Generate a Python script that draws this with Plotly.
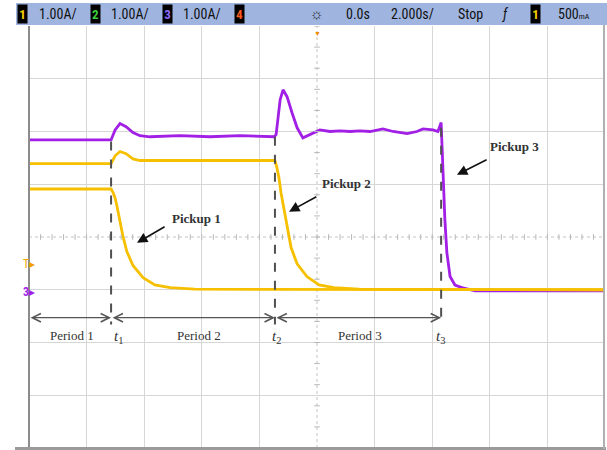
import plotly.graph_objects as go
import numpy as np

# ---- scope settings -------------------------------------------------------
ch_scale = ["1.00A/", "1.00A/", "1.00A/"]
time_ref = "0.0s"
time_scale = "2.000s/"
run_state = "Stop"
trig_level = "500"

# ---- acquired waveforms (time in s, current in A) --------------------------
# Channel 3 (purple)
ch3_t = [-10.00, -7.15, -7.01, -6.84, -6.63, -6.39, -6.15, -5.80, -4.76, -3.72,
         -2.67, -1.49, -1.42, -1.28, -1.18, -1.04, -0.87, -0.69, -0.49, -0.24,
         0.10, 0.45, 0.80, 1.15, 1.49, 1.84, 2.29, 2.64, 3.13, 3.47,
         3.68, 4.03, 4.20, 4.31, 4.37, 4.44, 4.51, 4.62, 4.79, 5.03,
         5.49, 10.00]
ch3_i = [2.84, 2.84, 3.03, 3.15, 3.09, 2.98, 2.92, 2.90, 2.92, 2.90,
         2.92, 2.90, 2.94, 3.60, 3.79, 3.66, 3.36, 3.07, 2.88, 2.94,
         3.03, 3.00, 3.01, 3.00, 3.01, 3.00, 3.05, 3.00, 2.96, 3.00,
         3.05, 3.03, 3.00, 3.17, 2.27, 1.33, 0.70, 0.25, 0.09, 0.04,
         -0.02, -0.02]

# Channel 1, upper record (yellow)
ch1a_t = [-10.00, -7.15, -7.01, -6.84, -6.63, -6.39, -6.15, -4.06, -1.49, -1.46,
          -1.39, -1.32, -1.25, -1.15, -1.04, -0.90, -0.69, -0.35, 0.07, 0.59,
          1.46, 10.00]
ch1a_i = [2.39, 2.39, 2.54, 2.62, 2.58, 2.48, 2.45, 2.45, 2.45, 2.45,
          2.31, 2.12, 1.84, 1.52, 1.18, 0.80, 0.49, 0.25, 0.09, 0.04,
          0.01, 0.00]

# Channel 1, lower record (yellow)
ch1b_t = [-10.00, -7.15, -7.08, -7.01, -6.94, -6.84, -6.74, -6.60, -6.39, -6.04,
          -5.63, -5.10, -4.24, 10.00]
ch1b_i = [1.91, 1.91, 1.84, 1.74, 1.57, 1.29, 1.02, 0.72, 0.46, 0.23,
          0.09, 0.04, 0.01, 0.00]

# switching instants and labels
event_times = [-7.15, -1.46, 4.31]
event_names = ["t<sub>1</sub>", "t<sub>2</sub>", "t<sub>3</sub>"]
period_names = ["Period 1", "Period 2", "Period 3"]
pickup_names = ["Pickup 1", "Pickup 2", "Pickup 3"]

W, H = 607, 450
PURPLE = "#a21fe6"
YELLOW = "#f6c000"
SERIF = "Liberation Serif, Times New Roman, serif"
NARROW = "Liberation Sans Narrow, Roboto Condensed, Liberation Sans, Arial"


def pxx(x):
    return x / W


def pxy(y):
    return 1 - y / H


fig = go.Figure()

fig.add_trace(go.Scatter(x=ch3_t, y=ch3_i, mode="lines",
                         line=dict(color=PURPLE, width=2.8), hoverinfo="skip"))
fig.add_trace(go.Scatter(x=ch1a_t, y=ch1a_i, mode="lines",
                         line=dict(color=YELLOW, width=2.8), hoverinfo="skip"))
fig.add_trace(go.Scatter(x=ch1b_t, y=ch1b_i, mode="lines",
                         line=dict(color=YELLOW, width=2.8), hoverinfo="skip"))

# minor ticks on the centre graticule lines
fig.add_trace(go.Scatter(x=np.arange(-10, 10.01, 0.4), y=np.full(51, 1.0),
                         mode="markers", hoverinfo="skip",
                         marker=dict(symbol="line-ns", size=4,
                                     line=dict(color="#b8b8b8", width=1))))
fig.add_trace(go.Scatter(x=np.zeros(21), y=np.arange(-3, 5.01, 0.4),
                         mode="markers", hoverinfo="skip",
                         marker=dict(symbol="line-ew", size=4,
                                     line=dict(color="#b8b8b8", width=1))))

shapes = []
# centre graticule lines (dotted)
shapes.append(dict(type="line", xref="x", yref="y", x0=-10, x1=10, y0=1, y1=1,
                   line=dict(color="#c4c4c4", width=1, dash="dot"), layer="below"))
shapes.append(dict(type="line", xref="x", yref="y", x0=0, x1=0, y0=-3, y1=5,
                   line=dict(color="#c4c4c4", width=1, dash="dot"), layer="below"))
# frame
shapes.append(dict(type="line", xref="paper", yref="paper",
                   x0=pxx(29), x1=pxx(29), y0=pxy(26), y1=pxy(449),
                   line=dict(color="#8c8c8c", width=2)))
shapes.append(dict(type="line", xref="paper", yref="paper",
                   x0=pxx(15), x1=pxx(606), y0=pxy(448.5), y1=pxy(448.5),
                   line=dict(color="#9a9a9a", width=3)))
shapes.append(dict(type="line", xref="paper", yref="paper",
                   x0=pxx(604), x1=pxx(604), y0=pxy(24), y1=pxy(449),
                   line=dict(color="#b0b0b0", width=2)))
# status bar
shapes.append(dict(type="rect", xref="paper", yref="paper",
                   x0=pxx(16), x1=pxx(607), y0=pxy(25), y1=pxy(3),
                   fillcolor="#9fb5e0", line=dict(width=0)))

# dashed markers at the switching instants
dash_tops = [2.81, 2.90, 3.07]
for t, top in zip(event_times, dash_tops):
    shapes.append(dict(type="line", xref="x", yref="y", x0=t, x1=t,
                       y0=top, y1=-0.66,
                       line=dict(color="#505050", width=2, dash="dash")))

annotations = []


# status bar contents
def bar_text(x, text, size=14, color="#111111", bg=None, w=None):
    a = dict(xref="paper", yref="paper", x=pxx(x), y=pxy(14), text=text,
             showarrow=False, xanchor="center", yanchor="middle",
             font=dict(family=NARROW, size=size, color=color))
    if bg:
        a.update(bgcolor=bg, width=w, height=18, borderpad=0)
    annotations.append(a)


bar_text(22, "<b>1</b>", 13, "#f5d000", "#000000", 9)
bar_text(58, ch_scale[0])
bar_text(95, "<b>2</b>", 13, "#3ccf3c", "#000000", 9)
bar_text(130, ch_scale[1])
bar_text(167, "<b>3</b>", 13, "#8f6bff", "#000000", 9)
bar_text(202, ch_scale[2])
bar_text(239, "<b>4</b>", 13, "#ff5a1f", "#000000", 9)
bar_text(317, "☼", 15, "#222222")
bar_text(358, time_ref)
bar_text(412, time_scale)
bar_text(471, run_state)
bar_text(505, "<i>ƒ</i>", 14)
bar_text(535, "<b>1</b>", 13, "#f5d000", "#000000", 9)
bar_text(574, trig_level + "<span style='font-size:8px'>mA</span>")

# trigger position marker
annotations.append(dict(xref="x", yref="paper", x=0, y=pxy(27), text="▼",
                        showarrow=False, yanchor="top",
                        font=dict(size=7, color="#f08a00")))
# trigger level / channel ground markers
annotations.append(dict(xref="paper", yref="paper", x=pxx(21), y=pxy(264),
                        text="T▸", showarrow=False,
                        font=dict(family=NARROW, size=12, color="#f0a000")))
annotations.append(dict(xref="paper", yref="paper", x=pxx(21), y=pxy(292),
                        text="<b>3</b>▸", showarrow=False,
                        font=dict(family=NARROW, size=12, color=PURPLE)))

# pickup labels and arrows (positions in s / A)
pickup_text = [(-4.17, 1.35), (1.04, 2.01), (6.87, 2.71)]
pickup_tail = [(-5.24, 1.21), (0.03, 1.78), (5.94, 2.48)]
pickup_head = [(-6.25, 0.89), (-0.97, 1.48), (4.86, 2.18)]
for name, (tx, ty), (ax, ay), (hx, hy) in zip(pickup_names, pickup_text,
                                              pickup_tail, pickup_head):
    annotations.append(dict(xref="x", yref="y", x=tx, y=ty, text="<b>%s</b>" % name,
                            showarrow=False,
                            font=dict(family=SERIF, size=13, color="#333333")))
    annotations.append(dict(xref="x", yref="y", x=hx, y=hy, axref="x", ayref="y",
                            ax=ax, ay=ay, text="", showarrow=True,
                            arrowhead=2, arrowsize=1.3, arrowwidth=1.6,
                            arrowcolor="#111111", standoff=0, startstandoff=0))

# period spans
bounds = [-10.0] + event_times
span_y = -0.53
for i in range(3):
    annotations.append(dict(xref="x", yref="y", x=bounds[i + 1], y=span_y,
                            axref="x", ayref="y", ax=bounds[i], ay=span_y,
                            text="", showarrow=True, arrowside="end+start",
                            arrowhead=5, startarrowhead=5,
                            arrowsize=1.4, startarrowsize=1.4,
                            arrowwidth=1.2, arrowcolor="#555555",
                            standoff=0, startstandoff=0))
    annotations.append(dict(xref="x", yref="y", x=(bounds[i] + bounds[i + 1]) / 2,
                            y=-0.87, text=period_names[i], showarrow=False,
                            xshift=[2, 6, 2][i],
                            font=dict(family=SERIF, size=13, color="#333333")))
    annotations.append(dict(xref="x", yref="y", x=event_times[i], y=-0.90,
                            text="<i>" + event_names[i].replace("<sub>", "</i><sub>"),
                            showarrow=False, xshift=[7, 2, -1][i],
                            font=dict(family=SERIF, size=15, color="#333333")))

fig.update_layout(
    width=W, height=H,
    margin=dict(l=0, r=0, t=0, b=0),
    paper_bgcolor="white", plot_bgcolor="white",
    showlegend=False,
    shapes=shapes, annotations=annotations,
    xaxis=dict(domain=[pxx(29), pxx(605)], range=[-10, 10],
               tickmode="array", tickvals=[-8, -6, -4, -2, 2, 4, 6, 8],
               showgrid=True, gridcolor="#d6d6d6", gridwidth=1,
               showticklabels=False, zeroline=False, ticks="", fixedrange=True),
    yaxis=dict(domain=[pxy(448), pxy(26)], range=[-3, 5],
               tickmode="array", tickvals=[-2, -1, 0, 2, 3, 4],
               showgrid=True, gridcolor="#d6d6d6", gridwidth=1,
               showticklabels=False, zeroline=False, ticks="", fixedrange=True),
)

fig.write_html("out.html")
